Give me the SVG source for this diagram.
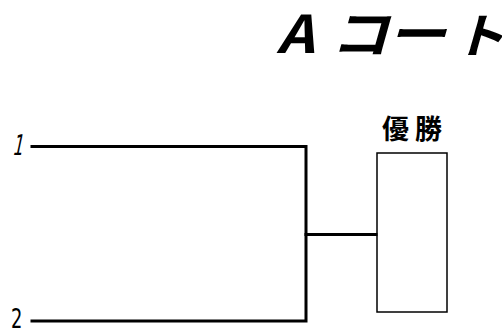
<svg xmlns="http://www.w3.org/2000/svg" width="502" height="333" viewBox="0 0 502 333">
<style>
.ln{stroke:#000;stroke-width:3;fill:none;stroke-linecap:square}
.box{stroke:#000;stroke-width:1.5;fill:#fff}
.num{font-family:"DejaVu Sans",sans-serif;font-size:27px;fill:#000}
</style>
<rect width="502" height="333" fill="#fff"/>
<g id="title">
<text transform="translate(0,53) scale(1.12,1)" font-family="'Noto Sans CJK JP',sans-serif" font-weight="bold" font-style="italic" font-size="52" fill="#000"><tspan x="247">A</tspan><tspan x="295">コ</tspan><tspan x="346">ー</tspan><tspan x="404" font-size="47">ト</tspan></text>
</g>
<g id="player1">
<text class="num" transform="translate(12,155) skewX(-12) scale(0.6,1.05)">1</text>
</g>
<g id="player2">
<text class="num" transform="translate(11,328) scale(0.66,1.0)">2</text>
</g>
<g id="winner">
<text x="382" y="139" font-family="'Noto Sans CJK JP',sans-serif" font-weight="bold" font-size="27" letter-spacing="6" fill="#000">優勝</text>
<rect class="box" x="377" y="153" width="70" height="159"/>
</g>
<g id="connectors">
<polyline class="ln" points="32,146.5 306,146.5 306,321 32,321"/>
<line class="ln" x1="306" y1="234.5" x2="376" y2="234.5"/>
</g>
</svg>
